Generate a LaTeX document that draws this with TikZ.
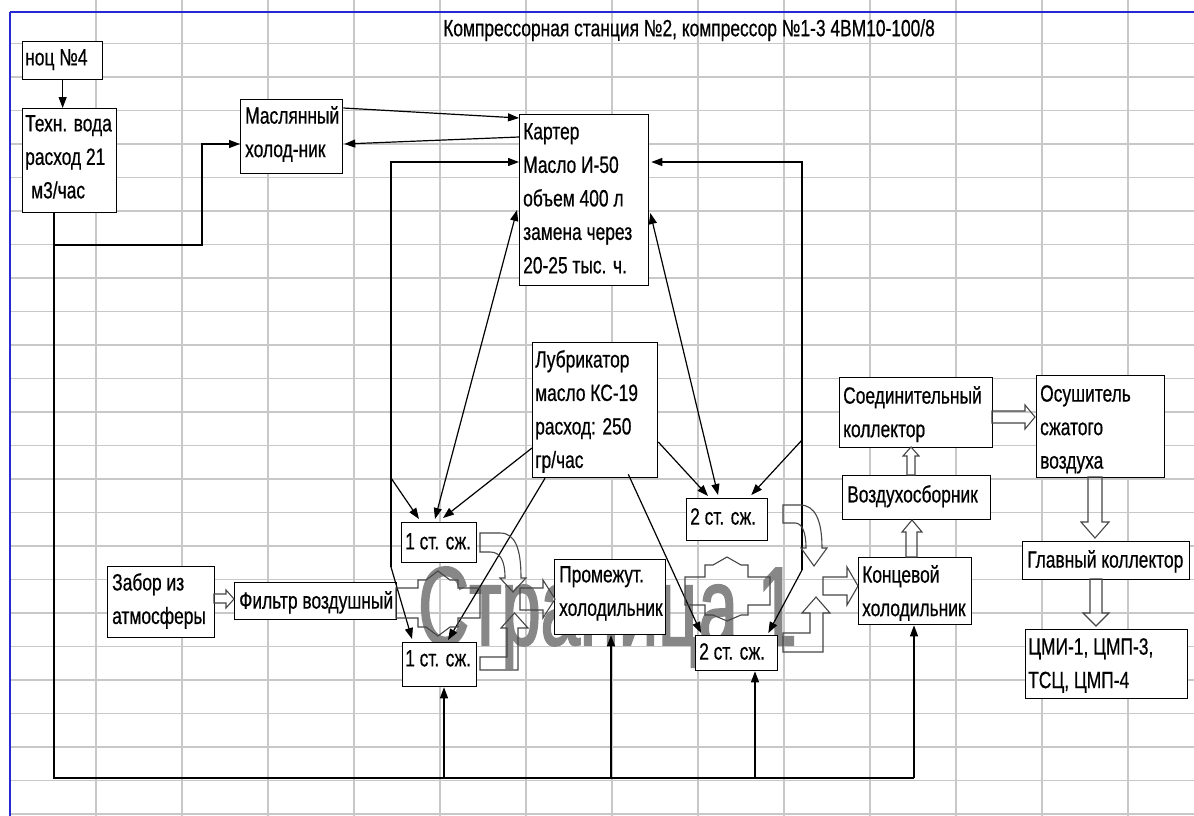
\documentclass[tikz,border=0pt]{standalone}
\usepackage{fontspec}
\setmainfont[FakeStretch=0.74,FakeBold=0.6]{Liberation Sans}
\newfontfamily\wmfont[FakeStretch=0.63,FakeBold=1.5]{Liberation Sans}
\usetikzlibrary{arrows.meta,calc}
\definecolor{gridc}{RGB}{200,200,200}
\definecolor{wmc}{RGB}{135,135,135}
\definecolor{blu}{RGB}{40,40,210}
\definecolor{holc}{RGB}{70,70,70}
\newcommand{\boxfont}{\fontsize{23.5}{33.5}\selectfont}
\begin{document}
\begin{tikzpicture}[x=1pt,y=-1pt,
 box/.style={draw, line width=1.3pt, fill=white, anchor=north west, inner sep=0pt},
 txt/.style={anchor=north west, inner sep=0pt, align=left, font=\boxfont},
 con/.style={line width=1.2pt},
 arr/.style={con, -{Triangle[length=11pt,width=8pt]}},
 darr/.style={con, {Triangle[length=11pt,width=8pt]}-{Triangle[length=11pt,width=8pt]}},
 hol/.style={draw=holc, line width=1.1pt, line join=miter},
 gridline/.style={draw=gridc, line width=1.2pt}]
\useasboundingbox (0,0) rectangle (1194,816);
\fill[white] (0,0) rectangle (1194,816);
% spreadsheet grid
\foreach \i in {0,...,12} \draw[gridline] ({96+86*\i},0) -- ({96+86*\i},816);
\foreach \j in {0,...,23} \draw[gridline] (10,{43.5+33.5*\j}) -- (1194,{43.5+33.5*\j});
\draw[blu, line width=1.8pt] (10,12) -- (1194,12);
\draw[blu, line width=1.5pt] (10,12) -- (10,816);
% watermark
\node[anchor=base west, inner sep=0pt, text=wmc, font=\wmfont\fontsize{112}{112}\selectfont] (wm) at (418,645) {Страница 1};
% title
\node[txt] (title) at (443,19) {Компрессорная станция №2, компрессор №1-3 4ВМ10-100/8};
% boxes
\node[box, minimum width=80pt, minimum height=38pt] (noc) at (22,41) {};
\node[box, minimum width=94pt, minimum height=104pt] (tech) at (22,108) {};
\node[box, minimum width=102pt, minimum height=74pt] (oilc) at (240,99) {};
\node[box, minimum width=129pt, minimum height=171pt] (kart) at (519,114) {};
\node[box, minimum width=125pt, minimum height=135pt] (lub) at (532,342) {};
\node[box, minimum width=75pt, minimum height=40pt] (c1a) at (401,522) {};
\node[box, minimum width=74pt, minimum height=44pt] (c1b) at (402,642) {};
\node[box, minimum width=111pt, minimum height=75pt] (inter) at (554,559) {};
\node[box, minimum width=81pt, minimum height=42pt] (c2a) at (686,498) {};
\node[box, minimum width=82pt, minimum height=35pt] (c2b) at (695,635) {};
\node[box, minimum width=107pt, minimum height=71pt] (intake) at (107,566) {};
\node[box, minimum width=162pt, minimum height=37pt] (filt) at (234,582) {};
\node[box, minimum width=153pt, minimum height=70pt] (conn) at (839,377) {};
\node[box, minimum width=148pt, minimum height=44pt] (recv) at (842,475) {};
\node[box, minimum width=113pt, minimum height=67pt] (after) at (858,557) {};
\node[box, minimum width=128pt, minimum height=102pt] (dry) at (1036,375) {};
\node[box, minimum width=167pt, minimum height=38pt] (main) at (1022,541) {};
\node[box, minimum width=162pt, minimum height=69pt] (cons) at (1025,629) {};
% texts
\node[txt] (tnoc) at (25,49) {ноц №4};
\node[txt] (ttech) at (25,115) {Техн. вода\\расход 21\\\hspace*{6pt}м3/час};
\node[txt] (toilc) at (245,106) {Маслянный\\холод-ник};
\node[txt] (tkart) at (523,123) {Картер\\Масло И-50\\объем 400 л\\замена через\\20-25 тыс. ч.};
\node[txt] (tlub) at (535,350) {Лубрикатор\\масло КС-19\\расход: 250\\гр/час};
\node[txt] (tc1a) at (405,533) {1 ст. сж.};
\node[txt] (tc1b) at (405,650) {1 ст. сж.};
\node[txt] (tinter) at (559,566) {Промежут.\\холодильник};
\node[txt] (tc2a) at (690,508) {2 ст. сж.};
\node[txt] (tc2b) at (699,643) {2 ст. сж.};
\node[txt] (tintake) at (112,573) {Забор из\\атмосферы};
\node[txt] (tfilt) at (239,591) {Фильтр воздушный};
\node[txt] (tconn) at (843,386) {Соединительный\\коллектор};
\node[txt] (trecv) at (847,485) {Воздухосборник};
\node[txt] (tafter) at (862,565) {Концевой\\холодильник};
\node[txt] (tdry) at (1040,385) {Осушитель\\сжатого\\воздуха};
\node[txt] (tmain) at (1027,550) {Главный коллектор};
\node[txt] (tcons) at (1028,638) {ЦМИ-1, ЦМП-3,\\ТСЦ, ЦМП-4};
% water lines
\draw[arr] (noc.south) -- (noc.south |- tech.north);
\coordinate (t0) at ($(tech.south west)+(32,0)$);
\coordinate (w1) at (202,245);
\draw[arr] (t0) |- (w1) |- ($(oilc.north west)+(0,45)$);
\coordinate (b0) at (54,778);
\coordinate (u1) at (444,778);
\coordinate (u2) at (611,778);
\coordinate (u3) at (755,778);
\coordinate (u4) at (914,778);
\draw[con, line width=1.6pt] (t0) -- (b0) -- (u4);
\draw[arr] (u1) -- (u1 |- c1b.south);
\draw[arr] (u2) -- (u2 |- inter.south);
\draw[arr] (u3) -- (u3 |- c2b.south);
\draw[arr] (u4) -- (u4 |- after.south);
% oil cooler <-> crankcase
\draw[arr] ($(oilc.north east)+(0,9)$) -- ($(kart.north west)+(0,4)$);
\draw[arr] ($(kart.north west)+(0,23)$) -- ($(oilc.north east)+(1,45)$);
% left oil return
\coordinate (L0) at (391,162);
\coordinate (L1) at (391,478);
\coordinate (L2) at (391,567);
\draw[arr] (L2) -- (L0) -- ($(kart.north west)+(0,48)$);
\draw[arr] (L1) -- ($(c1a.north west)+(18,-3)$);
\draw[arr] (L2) -- ($(c1b.north west)+(10,-3)$);
% right oil return
\coordinate (R0) at (802,162);
\coordinate (R1) at (802,440);
\coordinate (R2) at (802,570);
\draw[arr] (R2) -- (R0) -- ($(kart.north east)+(2,48)$);
\draw[arr] (R1) -- ($(c2a.north east)+(-17,-3)$);
\draw[arr] (R2) -- ($(c2b.north east)+(-10,-2)$);
% crankcase <-> compressors
\draw[darr] ($(kart.north west)+(-2,96)$) -- ($(c1a.north west)+(34,-3)$);
\draw[darr] ($(kart.north east)+(1,99)$) -- ($(c2a.north west)+(32,-3)$);
% lubricator
\draw[arr] ($(lub.north west)+(0,106)$) -- ($(c1a.north west)+(42,-4)$);
\draw[arr] ($(lub.south west)+(13,0)$) -- ($(c1b.north west)+(46,-2)$);
\draw[arr] ($(lub.north east)+(0,100)$) -- ($(c2a.north west)+(22,-2)$);
\draw[arr] ($(lub.south east)+(-30,-4)$) -- ($(c2b.north west)+(6,-2)$);
% hollow block arrows
\draw[hol] (214,594)--(226,594)--(226,590)--(234,599)--(226,608)--(226,603)--(214,603)--cycle;
\draw[hol] (396,588)--(418,588)--(418,580)--(426,580)--(438,571)--(450,580)--(458,580)--(458,588)--(480,588)--(480,618)--(458,618)--(458,627)--(450,627)--(438,636)--(426,627)--(418,627)--(418,618)--(396,618)--cycle;
\draw[hol] (480,533) -- (500,533) .. controls (515,533) and (521,548) .. (521,578) -- (526,578) -- (513,592) -- (500,578) -- (505,578) .. controls (505,560) and (500,552) .. (490,552) -- (480,552) -- cycle;
\draw[hol] (480,657)--(507,657)--(507,628)--(501,628)--(514.5,613)--(528,628)--(518,628)--(518,670)--(480,670)--cycle;
\draw[hol] (520,588)--(543,588)--(543,580)--(555,599)--(543,618)--(543,610)--(520,610)--cycle;
\draw[hol] (685,577)--(705,577)--(705,565)--(713,565)--(727,557)--(741,565)--(748,565)--(748,577)--(770,577)--(770,605)--(748,605)--(748,615)--(741,615)--(727,621)--(713,615)--(705,615)--(705,605)--(685,605)--cycle;
\draw[hol] (783,505) -- (800,505) .. controls (815,505) and (822,520) .. (822,548) -- (827,548) -- (814,566) -- (801,548) -- (806,548) .. controls (806,532) and (802,523) .. (795,523) -- (783,523) -- cycle;
\draw[hol] (783,633)--(810,633)--(810,613)--(802,613)--(816,597)--(830,613)--(823,613)--(823,652)--(783,652)--cycle;
\draw[hol] (823,577)--(847,577)--(847,567)--(858,586)--(847,605)--(847,595)--(823,595)--cycle;
\draw[hol] (906,557)--(906,532)--(902,532)--(912,520)--(922,532)--(917,532)--(917,557)--cycle;
\draw[hol] (907,475)--(907,456)--(903,456)--(911,447)--(919,456)--(915,456)--(915,475)--cycle;
\draw[hol] (992,411)--(1025,411)--(1025,405)--(1035,417)--(1025,429)--(1025,423)--(992,423)--cycle;
\draw[hol] (1088,477)--(1088,522)--(1081,522)--(1095,538)--(1109,522)--(1102,522)--(1102,477)--cycle;
\draw[hol] (1090,579)--(1090,613)--(1083,613)--(1096,626)--(1109,613)--(1102,613)--(1102,579)--cycle;
\end{tikzpicture}
\end{document}
